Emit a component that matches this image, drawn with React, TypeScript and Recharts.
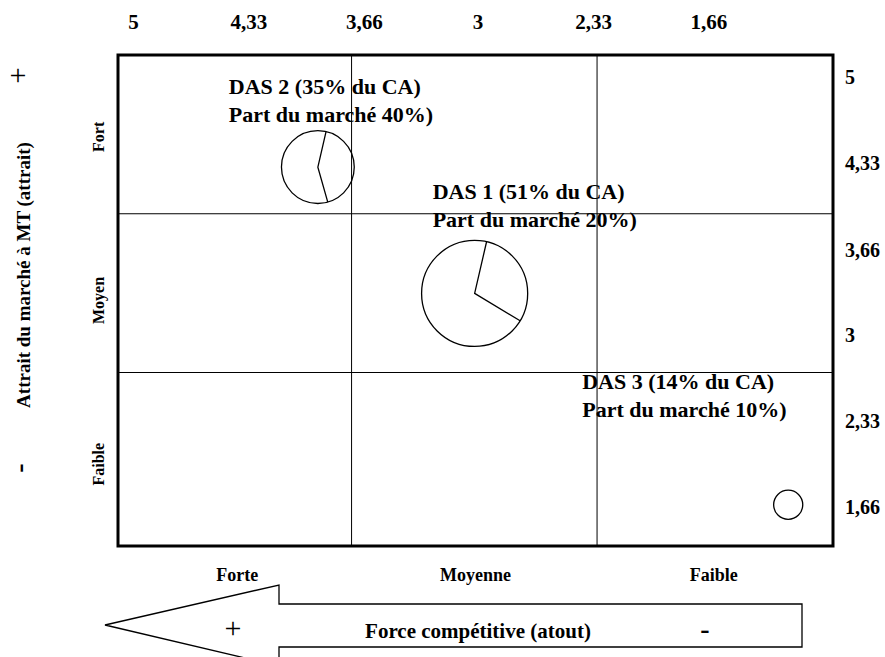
import React from "react";
import {
  ScatterChart,
  Scatter,
  XAxis,
  YAxis,
  ReferenceLine,
  ReferenceArea,
  Customized,
} from "recharts";

document.body.style.margin = "0";

// DAS (domaines d'activité stratégique)
const names = ["DAS 1", "DAS 2", "DAS 3"];
const caShare = [51, 35, 14];
const marketShare = [20, 40, 10];
const forceValue = [3.02, 3.93, 1.2];
const attraitValue = [3.32, 4.3, 1.68];
// part du cercle coupée par le trait
const wedgeShare = [0.3, 0.42, 0];

const valueTicks = [5, 4.33, 3.66, 3, 2.33, 1.66];
const forceLevels = ["Forte", "Moyenne", "Faible"];
const attraitLevels = ["Faible", "Moyen", "Fort"];
const levelTicks = [0.5, 1.5, 2.5];
const colDividers = [0.98, 2.01];
const rowDividers = [1.06, 2.03];

const data = names.map((name, i) => ({
  name,
  force: forceValue[i],
  attrait: attraitValue[i],
  ca: caShare[i],
  part: marketShare[i],
  wedge: wedgeShare[i],
}));
const levelData = levelTicks.map((level) => ({ level }));

const FONT = "'Liberation Serif', 'Times New Roman', serif";

// where each label sits relative to its bubble
const labelOffsets: Record<string, [number, number]> = {
  "DAS 1": [-42, -94],
  "DAS 2": [-89, -73],
  "DAS 3": [-206, -116],
};

const fmt = (v: number) => String(v).replace(".", ",");

function Bubble(props: any) {
  const { cx, cy, payload } = props;
  const r = payload.ca * 1.04;
  const [dx, dy] = labelOffsets[payload.name];
  let wedge = null;
  if (payload.wedge > 0) {
    const a0 = (13 * Math.PI) / 180;
    const a1 = a0 + payload.wedge * 2 * Math.PI;
    const p0 = `${cx + r * Math.sin(a0)},${cy - r * Math.cos(a0)}`;
    const p1 = `${cx + r * Math.sin(a1)},${cy - r * Math.cos(a1)}`;
    wedge = (
      <polyline
        points={`${p0} ${cx},${cy} ${p1}`}
        fill="none"
        stroke="#000"
        strokeWidth={1.3}
      />
    );
  }
  const textStyle = {
    fontFamily: FONT,
    fontWeight: 700,
    fontSize: 22,
    fill: "#000",
  };
  return (
    <g>
      <circle cx={cx} cy={cy} r={r} fill="none" stroke="#000" strokeWidth={1.3} />
      {wedge}
      <text x={cx + dx} y={cy + dy} style={textStyle}>
        {`${payload.name} (${payload.ca}% du CA)`}
      </text>
      <text x={cx + dx} y={cy + dy + 28} style={textStyle}>
        {`Part du marché ${payload.part}%)`}
      </text>
    </g>
  );
}

function LeftTick(props: any) {
  const { x, y, payload } = props;
  return (
    <text
      x={x}
      y={y}
      dy="0.35em"
      textAnchor="middle"
      transform={`rotate(-90, ${x}, ${y})`}
      style={{ fontFamily: FONT, fontWeight: 700, fontSize: 16, fill: "#000" }}
    >
      {attraitLevels[Math.floor(payload.value)]}
    </text>
  );
}

function Annotations() {
  return (
    <g style={{ fontFamily: FONT }}>
      <text x={18} y={85} textAnchor="middle" fontSize={30} fill="#000">
        +
      </text>
      <text
        x={23}
        y={275}
        dy="0.35em"
        textAnchor="middle"
        transform="rotate(-90, 23, 275)"
        fontSize={19}
        fontWeight={700}
        fill="#000"
      >
        Attrait du marché à MT (attrait)
      </text>
      <text
        x={18}
        y={468}
        dy="0.35em"
        textAnchor="middle"
        transform="rotate(-90, 18, 468)"
        fontSize={28}
        fontWeight={700}
        fill="#000"
      >
        -
      </text>
      <polygon
        points="105,625 279,585 279,604 802,604 802,647 279,647 279,666"
        fill="#fff"
        stroke="#000"
        strokeWidth={1.3}
      />
      <text x={233} y={638} textAnchor="middle" fontSize={30} fill="#000">
        +
      </text>
      <text
        x={478}
        y={638}
        textAnchor="middle"
        fontSize={21}
        fontWeight={700}
        fill="#000"
      >
        Force compétitive (atout)
      </text>
      <text
        x={705}
        y={638}
        textAnchor="middle"
        fontSize={28}
        fontWeight={700}
        fill="#000"
      >
        -
      </text>
    </g>
  );
}

const tickStyle = { fill: "#000", fontSize: 21, fontWeight: 700, fontFamily: FONT };

export default function App() {
  return (
    <ScatterChart
      width={885}
      height={657}
      margin={{ top: 0, right: 0, bottom: 0, left: 0 }}
      style={{ background: "#fff" }}
    >
      <XAxis
        xAxisId="v"
        dataKey="force"
        type="number"
        orientation="top"
        domain={[0.94, 5.09]}
        reversed
        allowDataOverflow
        ticks={valueTicks}
        interval={0}
        tickFormatter={fmt}
        axisLine={false}
        tickLine={false}
        tickSize={0}
        tickMargin={26}
        height={55}
        tick={tickStyle}
      />
      <YAxis
        yAxisId="v"
        dataKey="attrait"
        type="number"
        orientation="right"
        domain={[1.36, 5.17]}
        allowDataOverflow
        ticks={valueTicks}
        interval={0}
        tickFormatter={fmt}
        axisLine={false}
        tickLine={false}
        tickSize={0}
        tickMargin={12}
        width={52}
        tick={{ ...tickStyle, fontSize: 20 }}
      />
      <XAxis
        xAxisId="c"
        dataKey="level"
        type="number"
        orientation="bottom"
        domain={[0, 3]}
        allowDataOverflow
        ticks={levelTicks}
        interval={0}
        tickFormatter={(v: number) => forceLevels[Math.floor(v)]}
        axisLine={false}
        tickLine={false}
        tickSize={0}
        tickMargin={22}
        height={111}
        tick={{ ...tickStyle, fontSize: 18 }}
      />
      <YAxis
        yAxisId="c"
        dataKey="level"
        type="number"
        orientation="left"
        domain={[0, 3]}
        allowDataOverflow
        ticks={levelTicks}
        interval={0}
        axisLine={false}
        tickLine={false}
        tickSize={0}
        tickMargin={20}
        width={118}
        tick={<LeftTick />}
      />
      <Scatter
        xAxisId="c"
        yAxisId="c"
        data={levelData}
        shape={() => <g />}
        isAnimationActive={false}
      />
      {colDividers.map((x) => (
        <ReferenceLine
          key={`c${x}`}
          xAxisId="c"
          yAxisId="c"
          x={x}
          stroke="#000"
          strokeWidth={1}
        />
      ))}
      {rowDividers.map((y) => (
        <ReferenceLine
          key={`r${y}`}
          xAxisId="c"
          yAxisId="c"
          y={y}
          stroke="#000"
          strokeWidth={1}
        />
      ))}
      <ReferenceArea
        xAxisId="c"
        yAxisId="c"
        x1={0}
        x2={3}
        y1={0}
        y2={3}
        fill="none"
        fillOpacity={0}
        stroke="#000"
        strokeWidth={3}
        ifOverflow="visible"
      />
      <Scatter
        xAxisId="v"
        yAxisId="v"
        data={data}
        shape={<Bubble />}
        isAnimationActive={false}
      />
      <Customized component={Annotations} />
    </ScatterChart>
  );
}
